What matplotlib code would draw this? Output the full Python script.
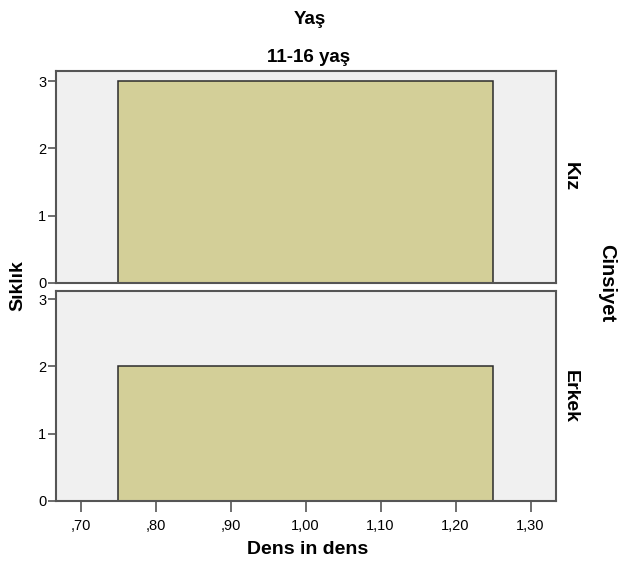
import matplotlib.pyplot as plt
from matplotlib.ticker import FuncFormatter

plt.rcParams['font.family'] = ['Liberation Sans', 'DejaVu Sans']

# Histogram of "Dens in dens" split by gender, age group 11-16
groups = ['Kız', 'Erkek']
bin_edges = [0.75, 1.25]
counts = {'Kız': [3], 'Erkek': [2]}
x_ticks = [0.70, 0.80, 0.90, 1.00, 1.10, 1.20, 1.30]
y_ticks = [0, 1, 2, 3]

fig = plt.figure(figsize=(6.21, 5.64), dpi=100)
W, H = 621, 564
left, right = 56, 556
panels = [(71, 283, 3.15), (291, 501, 3.12)]

frame_col = '#555555'
bar_col = '#d3cf98'


def fmt(v, pos):
    s = f'{v:.2f}'.replace('.', ',')
    return s[1:] if s.startswith('0') else s


axes = []
for g, (top, bot, ymax) in zip(groups, panels):
    ax = fig.add_axes([left / W, 1 - bot / H, (right - left) / W, (bot - top) / H])
    ax.set_facecolor('#f0f0f0')
    widths = [bin_edges[i + 1] - bin_edges[i] for i in range(len(bin_edges) - 1)]
    ax.bar(bin_edges[:-1], counts[g], width=widths, align='edge',
           color=bar_col, edgecolor='#2b2b2b', linewidth=1.1)
    ax.set_xlim(0.667, 1.334)
    ax.set_ylim(0, ymax)
    ax.set_yticks(y_ticks)
    ax.tick_params(axis='y', direction='out', length=6, width=1.2, color=frame_col,
                   labelsize=10.5, pad=1)
    for s in ax.spines.values():
        s.set_color(frame_col)
        s.set_linewidth(1.5)
    ax.text(570 / W, 1 - (top + bot) / 2 / H, g, transform=fig.transFigure,
            rotation=-90, ha='center', va='center', fontsize=14, fontweight='bold')
    axes.append(ax)

axes[0].tick_params(axis='x', bottom=False, labelbottom=False)
axes[1].set_xticks(x_ticks)
axes[1].xaxis.set_major_formatter(FuncFormatter(fmt))
axes[1].tick_params(axis='x', direction='out', length=8, width=1.2, color=frame_col,
                    labelsize=10.5, pad=5)

fig.text(310 / W, 1 - 20 / H, 'Yaş', ha='center', va='center',
         fontsize=13.5, fontweight='bold')
fig.text(309 / W, 1 - 58 / H, '11-16 yaş', ha='center', va='center',
         fontsize=13.5, fontweight='bold')
fig.text(18 / W, 1 - 286 / H, 'Sıklık', ha='center', va='center', rotation=90,
         fontsize=14, fontweight='bold')
fig.text(607 / W, 1 - 283 / H, 'Cinsiyet', ha='center', va='center', rotation=-90,
         fontsize=14.5, fontweight='bold')
fig.text(308 / W, 1 - 550 / H, 'Dens in dens', ha='center', va='center',
         fontsize=14, fontweight='bold')

fig.savefig('out.png', dpi=100, facecolor='white')
